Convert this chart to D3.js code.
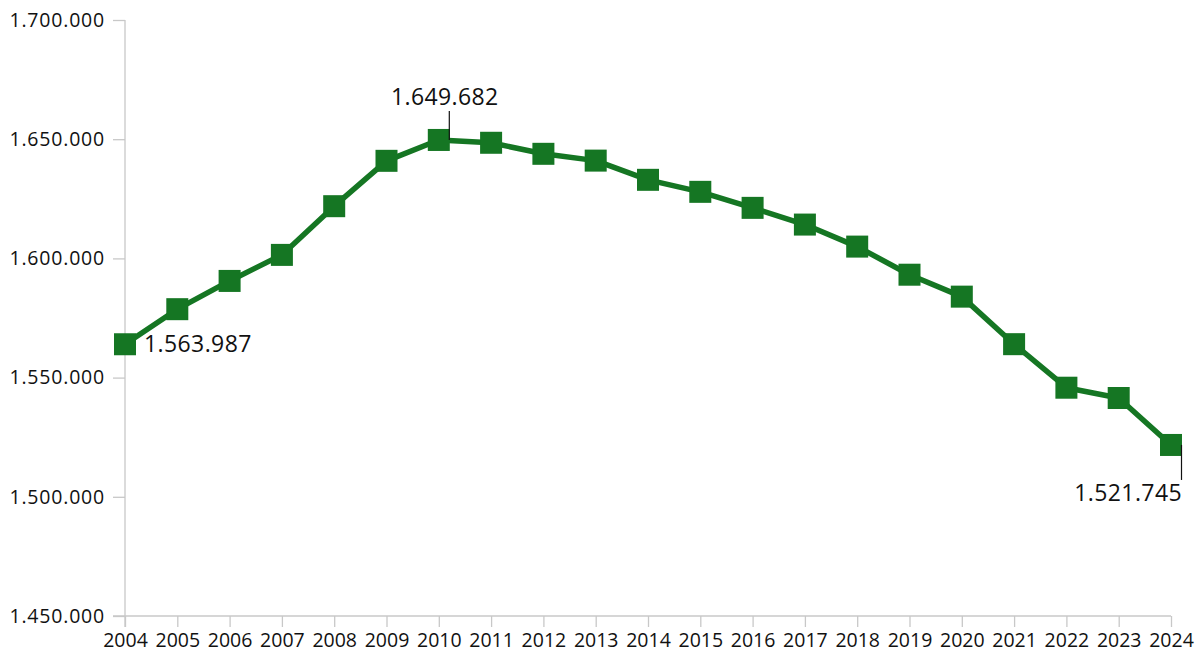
<!DOCTYPE html>
<html>
<head>
<meta charset="utf-8">
<script src="https://cdn.jsdelivr.net/npm/d3@7"></script>
<style>
  body { margin: 0; background: #fff; }
  .axis path, .axis line { stroke: #c8c8c8; stroke-width: 1.3; }
  .axis text { font-family: "Open Sans", sans-serif; font-size: 19.5px; fill: #111; }
  .yaxis text { letter-spacing: 0.8px; }
  .lbl { font-family: "Open Sans", sans-serif; font-size: 23px; fill: #111; letter-spacing: 0.4px; }
</style>
</head>
<body>
<script>
//chart data
var years = ["2004","2005","2006","2007","2008","2009","2010","2011","2012","2013","2014",
             "2015","2016","2017","2018","2019","2020","2021","2022","2023","2024"];
var values = [1563987, 1578700, 1590550, 1601470, 1621900, 1640930, 1649682, 1648500, 1643870, 1641020, 1632960,
              1627920, 1621200, 1614190, 1604950, 1593160, 1583960, 1564020, 1545760, 1541440, 1521745];
var yTicks = [1450000, 1500000, 1550000, 1600000, 1650000, 1700000];
var labelled = ["2004", "2010", "2024"];

var width = 1203, height = 656;
var margin = {top: 20, right: 32, bottom: 40, left: 125};

var svg = d3.select("body").append("svg")
    .attr("width", width)
    .attr("height", height);

var x = d3.scalePoint()
    .domain(years)
    .range([margin.left, width - margin.right]);

var y = d3.scaleLinear()
    .domain([1450000, 1700000])
    .range([height - margin.bottom, margin.top]);

//dots as thousands separator
var loc = d3.formatLocale({decimal: ",", thousands: ".", grouping: [3], currency: ["", ""]});
var fmt = loc.format(",d");

//y axis
svg.append("g")
    .attr("class", "axis yaxis")
    .attr("transform", "translate(" + margin.left + ",0)")
    .call(d3.axisLeft(y).tickValues(yTicks).tickFormat(fmt).tickSize(12).tickSizeOuter(0).tickPadding(8))
    .call(function(g){ g.select(".domain").attr("d", "M0," + y(1700000) + "V" + (y(1450000) + 11)); });

//x axis
svg.append("g")
    .attr("class", "axis")
    .attr("transform", "translate(0," + y(1450000) + ")")
    .call(d3.axisBottom(x).tickSize(11).tickSizeOuter(0).tickPadding(6))
    .call(function(g){ g.select(".domain").attr("d", "M" + (margin.left - 12) + ",0H" + x("2024")); });

var data = years.map(function(d, i){ return {year: d, value: values[i]}; });

var line = d3.line()
    .x(function(d){ return x(d.year); })
    .y(function(d){ return y(d.value); });

svg.append("path")
    .datum(data)
    .attr("fill", "none")
    .attr("stroke", "#157623")
    .attr("stroke-width", 5.5)
    .attr("stroke-linejoin", "round")
    .attr("d", line);

var s = 22;
svg.selectAll(".marker")
    .data(data)
    .enter()
    .append("rect")
    .attr("class", "marker")
    .attr("x", function(d){ return x(d.year) - s / 2; })
    .attr("y", function(d){ return y(d.value) - s / 2; })
    .attr("width", s)
    .attr("height", s)
    .attr("fill", "#157623");

//data labels
data.filter(function(d){ return labelled.indexOf(d.year) >= 0; }).forEach(function(d){
    var px = x(d.year), py = y(d.value);
    if (d.year == "2004") {
        svg.append("text").attr("class", "lbl")
            .attr("x", px + 19).attr("y", py + 8)
            .text(fmt(d.value));
    } else if (d.year == "2010") {
        svg.append("line")
            .attr("x1", px + 10.5).attr("x2", px + 10.5)
            .attr("y1", py - 29).attr("y2", py)
            .attr("stroke", "#111").attr("stroke-width", 1.2);
        svg.append("text").attr("class", "lbl")
            .attr("x", px + 6).attr("y", py - 35)
            .attr("text-anchor", "middle")
            .text(fmt(d.value));
    } else {
        svg.append("line")
            .attr("x1", px + 10.5).attr("x2", px + 10.5)
            .attr("y1", py).attr("y2", py + 35)
            .attr("stroke", "#111").attr("stroke-width", 1.2);
        svg.append("text").attr("class", "lbl")
            .attr("x", px + 11).attr("y", py + 56)
            .attr("text-anchor", "end")
            .text(fmt(d.value));
    }
});
</script>
</body>
</html>
